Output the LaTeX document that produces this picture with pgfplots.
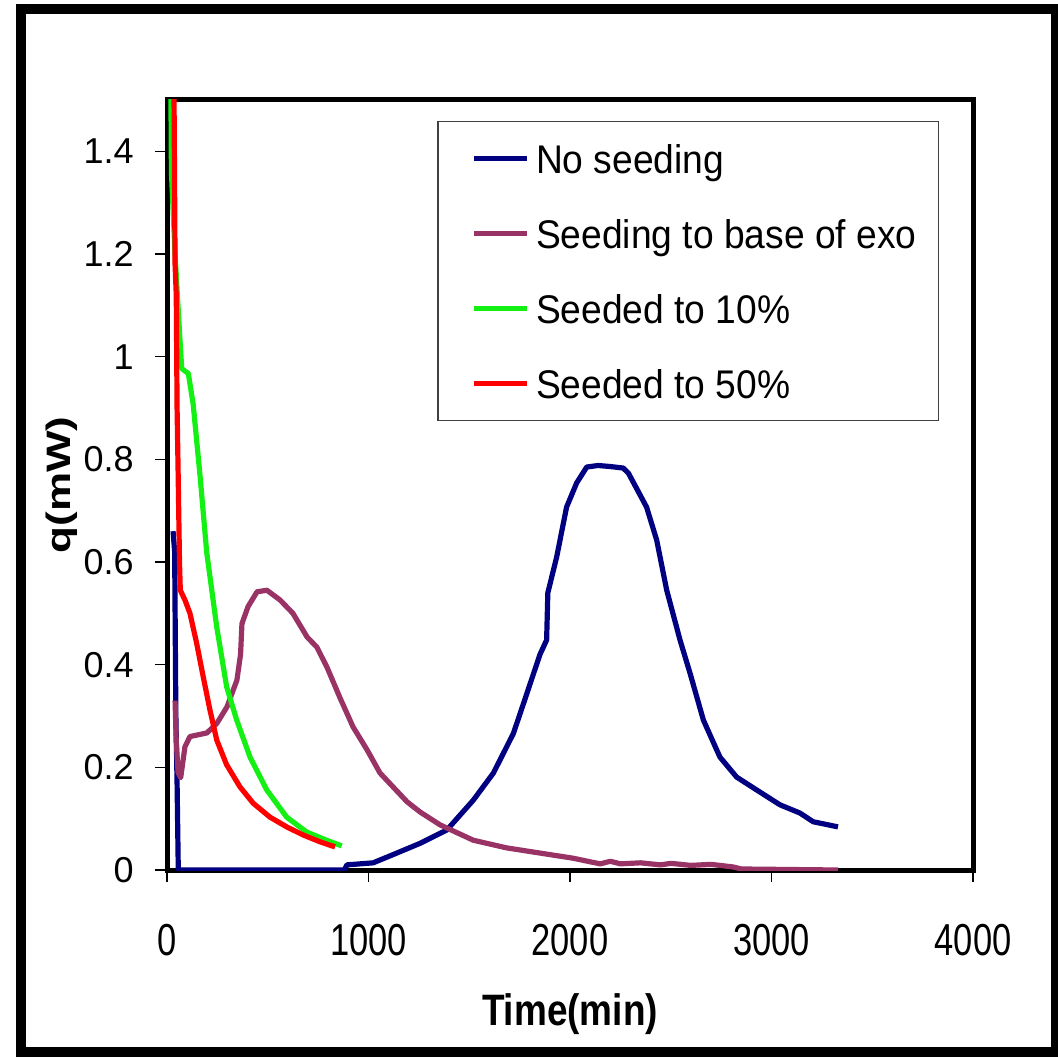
\documentclass[border=0pt]{standalone}
\usepackage{pgfplots}
\pgfplotsset{compat=1.18}
\usepackage{fontspec}
\setmainfont{Liberation Sans}
\usepackage{graphicx}
\definecolor{navyc}{RGB}{0,0,128}
\definecolor{plumc}{RGB}{153,51,102}
\definecolor{limec}{RGB}{20,240,20}
\definecolor{redc}{RGB}{255,0,0}

\pgfplotstableread{
t q
30 0.66
38 0.62
44 0.30
50 0.17
56 0.0
880 0.0
893 0.01
1023 0.014
1122 0.03
1256 0.052
1389 0.078
1520 0.136
1620 0.189
1719 0.266
1787 0.345
1851 0.42
1884 0.448
1890 0.54
1934 0.61
1983 0.707
2033 0.754
2083 0.785
2139 0.788
2200 0.786
2264 0.783
2290 0.773
2380 0.707
2430 0.643
2480 0.545
2546 0.448
2596 0.383
2662 0.292
2744 0.22
2827 0.181
2926 0.156
3042 0.127
3141 0.111
3207 0.094
3330 0.084
}\noseed

\pgfplotstableread{
t q
40 0.33
46 0.25
55 0.19
68 0.18
89 0.24
114 0.26
198 0.267
248 0.286
298 0.318
347 0.37
365 0.42
372 0.48
402 0.513
447 0.542
496 0.545
561 0.526
625 0.50
695 0.454
744 0.434
794 0.395
859 0.335
923 0.279
993 0.234
1057 0.189
1191 0.133
1256 0.113
1355 0.088
1520 0.058
1687 0.043
1851 0.033
2015 0.023
2100 0.016
2150 0.012
2200 0.017
2250 0.012
2350 0.014
2450 0.010
2500 0.013
2600 0.009
2700 0.011
2809 0.006
2850 0.002
3330 0.0
}\baseexo

\pgfplotstableread{
t q
18 1.6
22 1.36
40 1.2
60 1.062
73 0.977
106 0.967
130 0.907
164 0.768
197 0.619
247 0.473
296 0.357
346 0.292
412 0.22
495 0.156
594 0.103
693 0.074
792 0.058
867 0.047
}\tenpct

\pgfplotstableread{
t q
28 1.7
35 1.5
40 1.18
46 1.12
50 0.9
55 0.78
62 0.6
66 0.545
89 0.526
114 0.50
147 0.442
180 0.376
213 0.312
247 0.253
296 0.205
362 0.162
428 0.13
511 0.103
594 0.084
677 0.068
759 0.055
834 0.045
}\fiftypct

\begin{document}
\begin{tikzpicture}[x=1pt,y=1pt]
\useasboundingbox (0,0) rectangle (529,528.5);
\draw[line width=5pt] (10.5,2.5) rectangle (528,523.75);
\begin{axis}[
  at={(83.5pt,93.5pt)}, anchor=south west,
  scale only axis, width=403pt, height=385pt,
  xmin=0, xmax=4000, ymin=0, ymax=1.5,
  xtick={0,1000,2000,3000,4000},
  ytick={0,0.2,0.4,0.6,0.8,1,1.2,1.4},
  tick pos=left, tick align=outside, major tick length=6pt,
  tick style={black, line width=0.7pt},
  axis line style={line width=2.5pt},
  /pgf/number format/assume math mode=true,
  /pgf/number format/1000 sep={},
  yticklabel style={font=\fontsize{18}{21}\selectfont, anchor=east, inner sep=0pt, xshift=-10.5pt},
  xticklabel style={font=\fontsize{22.4}{26}\selectfont, anchor=north, inner sep=0pt, yshift=-21pt},
  xticklabel={\scalebox{0.77}[1]{\pgfmathprintnumber{\tick}}},
  xlabel={\scalebox{0.84}[1]{\bfseries Time(min)}},
  ylabel={\scalebox{1}[0.77]{\bfseries q(mW)}},
  xlabel style={font=\fontsize{22}{26}\selectfont, at={(axis description cs:0.5,-0.187)}, anchor=center},
  ylabel style={font=\fontsize{22}{26}\selectfont, at={(axis description cs:-0.13,0.5)}, anchor=center},
  legend style={at={(0.335,0.973)}, anchor=north west, draw=black!75, line width=0.8pt,
    font=\fontsize{20}{24}\selectfont, inner xsep=9pt, inner ysep=6pt, row sep=12.5pt,
    column sep=1pt,
    nodes={inner sep=2pt, text depth=3pt, text height=18pt}},
  legend cell align=left,
  legend image code/.code={\path (0pt,0pt); \draw[#1] (8pt,0pt) -- (34.5pt,0pt);},
  every axis plot/.append style={line width=2.6pt, line join=round},
]
\addplot[navyc] table[x=t,y=q] {\noseed};
\addlegendentry{\scalebox{0.93}[1]{No seeding}}
\addplot[plumc] table[x=t,y=q] {\baseexo};
\addlegendentry{\scalebox{0.93}[1]{Seeding to base of exo}}
\addplot[limec] table[x=t,y=q] {\tenpct};
\addlegendentry{\scalebox{0.93}[1]{Seeded to 10\%}}
\addplot[redc] table[x=t,y=q] {\fiftypct};
\addlegendentry{\scalebox{0.93}[1]{Seeded to 50\%}}
\end{axis}
\end{tikzpicture}
\end{document}
